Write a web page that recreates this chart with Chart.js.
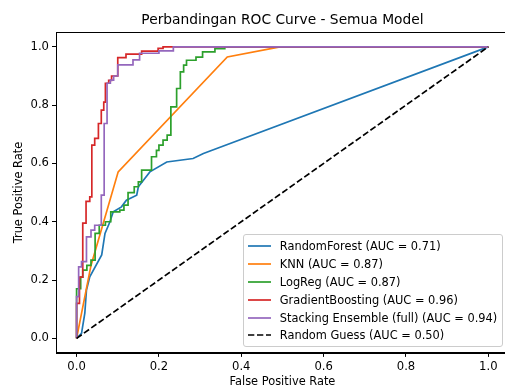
<!DOCTYPE html>
<html><head><meta charset="utf-8">
<script src="https://cdn.jsdelivr.net/npm/chart.js@4.4.0/dist/chart.umd.min.js"></script>
<style>
html,body{margin:0;padding:0;background:#fff;overflow:hidden;width:505px;height:390px}
#wrap{position:relative;width:520px;height:390px}
#legend{position:absolute;background:rgba(255,255,255,0.8);border:1px solid #cccccc;border-radius:3px;font-family:"DejaVu Sans";font-size:11.4px;color:#000;padding:2px 5px 2px 4px;box-sizing:border-box}
.row{display:flex;align-items:center;height:17.8px;white-space:nowrap}
.row svg{margin-right:9px;flex:none}
</style></head>
<body><div id="wrap"><canvas id="c" width="520" height="390"></canvas><div id="legend"></div></div>
<script>
const chartTitle = 'Perbandingan ROC Curve - Semua Model';
const xLabel = 'False Positive Rate';
const yLabel = 'True Positive Rate';
const tickValues = [0, 0.2, 0.4, 0.6, 0.8, 1.0];

const modelNames = ['RandomForest', 'KNN', 'LogReg', 'GradientBoosting', 'Stacking Ensemble (full)', 'Random Guess'];
const aucValues = [0.71, 0.87, 0.87, 0.96, 0.94, 0.50];
const colors = ['#1f77b4', '#ff7f0e', '#2ca02c', '#d62728', '#9467bd', '#000000'];

const rfFpr = [0, 0.012, 0.02, 0.024, 0.032, 0.061, 0.069, 0.081, 0.089, 0.109, 0.121, 0.146, 0.15, 0.178, 0.219, 0.283, 0.308, 1];
const rfTpr = [0, 0.017, 0.086, 0.166, 0.211, 0.286, 0.36, 0.4, 0.434, 0.451, 0.474, 0.491, 0.52, 0.571, 0.605, 0.617, 0.634, 1];

const knnFpr = [0, 0.035, 0.101, 0.366, 0.494, 1];
const knnTpr = [0, 0.25, 0.571, 0.965, 1, 1];

const lrFpr = [0, 0, 0.01, 0.01, 0.015, 0.015, 0.025, 0.025, 0.035, 0.035, 0.045, 0.045, 0.055, 0.055, 0.07, 0.07, 0.083, 0.083, 0.105, 0.105, 0.115, 0.115, 0.125, 0.125, 0.14, 0.14, 0.15, 0.15, 0.158, 0.158, 0.182, 0.182, 0.194, 0.194, 0.2, 0.2, 0.21, 0.21, 0.22, 0.22, 0.229, 0.229, 0.243, 0.243, 0.252, 0.252, 0.26, 0.26, 0.267, 0.267, 0.29, 0.29, 0.306, 0.306, 0.336, 0.336, 0.36, 0.36, 1];
const lrTpr = [0, 0.17, 0.17, 0.21, 0.21, 0.234, 0.234, 0.25, 0.25, 0.268, 0.268, 0.36, 0.36, 0.388, 0.388, 0.4, 0.4, 0.434, 0.434, 0.44, 0.44, 0.457, 0.457, 0.5, 0.5, 0.52, 0.52, 0.537, 0.537, 0.577, 0.577, 0.623, 0.623, 0.645, 0.645, 0.663, 0.663, 0.68, 0.68, 0.697, 0.697, 0.794, 0.794, 0.857, 0.857, 0.914, 0.914, 0.937, 0.937, 0.954, 0.954, 0.965, 0.965, 0.983, 0.983, 0.994, 0.994, 1, 1];

const gbFpr = [0, 0, 0.007, 0.007, 0.015, 0.015, 0.023, 0.023, 0.032, 0.032, 0.037, 0.037, 0.044, 0.044, 0.053, 0.053, 0.06, 0.06, 0.066, 0.066, 0.07, 0.07, 0.078, 0.078, 0.085, 0.085, 0.1, 0.1, 0.12, 0.12, 0.158, 0.158, 0.198, 0.198, 0.21, 0.21, 1];
const gbTpr = [0, 0.12, 0.12, 0.21, 0.21, 0.395, 0.395, 0.47, 0.47, 0.485, 0.485, 0.663, 0.663, 0.686, 0.686, 0.737, 0.737, 0.783, 0.783, 0.81, 0.81, 0.875, 0.875, 0.885, 0.885, 0.9, 0.9, 0.963, 0.963, 0.975, 0.975, 0.985, 0.985, 0.995, 0.995, 1, 1];

const stFpr = [0, 0, 0.005, 0.005, 0.012, 0.012, 0.024, 0.024, 0.035, 0.035, 0.044, 0.044, 0.06, 0.06, 0.067, 0.067, 0.074, 0.074, 0.082, 0.082, 0.09, 0.09, 0.1, 0.1, 0.137, 0.137, 0.153, 0.153, 0.2, 0.2, 0.235, 0.235, 1];
const stTpr = [0, 0.143, 0.143, 0.245, 0.245, 0.263, 0.263, 0.348, 0.348, 0.371, 0.371, 0.388, 0.388, 0.491, 0.491, 0.737, 0.737, 0.875, 0.875, 0.886, 0.886, 0.9, 0.9, 0.938, 0.938, 0.955, 0.955, 0.978, 0.978, 0.986, 0.986, 1, 1];

const guessFpr = [0, 1];
const guessTpr = [0, 1];

const seriesFpr = [rfFpr, knnFpr, lrFpr, gbFpr, stFpr, guessFpr];
const seriesTpr = [rfTpr, knnTpr, lrTpr, gbTpr, stTpr, guessTpr];

const FONT = 'DejaVu Sans';
const dashPattern = [6.3, 2.7];

const datasets = modelNames.map((name, i) => ({
  label: name + ' (AUC = ' + aucValues[i].toFixed(2) + ')',
  data: seriesFpr[i].map((x, j) => ({ x: x, y: seriesTpr[i][j] })),
  borderColor: colors[i],
  backgroundColor: colors[i],
  borderWidth: 1.7,
  borderDash: i === modelNames.length - 1 ? dashPattern : [],
  pointRadius: 0,
  tension: 0,
  fill: false,
  order: modelNames.length - 1 - i
}));

const framePlugin = {
  id: 'frame',
  afterDatasetsDraw(chart) {
    const a = chart.chartArea, ctx = chart.ctx;
    ctx.save();
    ctx.strokeStyle = '#000';
    ctx.lineWidth = 1;
    ctx.strokeRect(Math.round(a.left) + 0.5, Math.round(a.top) + 0.5, Math.round(a.right - a.left), Math.round(a.bottom - a.top));
    ctx.restore();
  }
};

const legendPlugin = {
  id: 'htmlLegend',
  afterUpdate(chart) {
    const el = document.getElementById('legend');
    el.innerHTML = '';
    chart.data.datasets.forEach(ds => {
      const row = document.createElement('div');
      row.className = 'row';
      const dash = ds.borderDash && ds.borderDash.length ? ds.borderDash.join(' ') : 'none';
      row.innerHTML = '<svg width="23" height="10"><line x1="0" y1="5" x2="23" y2="5" stroke="' + ds.borderColor +
        '" stroke-width="1.7" stroke-dasharray="' + dash + '"/></svg><span></span>';
      row.querySelector('span').textContent = ds.label;
      el.appendChild(row);
    });
    const a = chart.chartArea;
    el.style.right = (chart.width - (a.right - 5.7)) + 'px';
    el.style.bottom = (chart.height - (a.bottom - 5.7)) + 'px';
  }
};

function axisCfg(label, isY) {
  return {
    type: 'linear',
    min: -0.05,
    max: 1.05,
    afterBuildTicks: s => { s.ticks = tickValues.map(v => ({ value: v })); },
    afterFit: s => { if (isY) s.width = 56; else s.height = 37.1; },
    ticks: {
      callback: v => Number(v).toFixed(1),
      font: { family: FONT, size: 11.6 },
      color: '#000',
      padding: 3,
      maxRotation: 0,
      autoSkip: false
    },
    grid: { drawOnChartArea: false, drawTicks: true, tickLength: 4, color: '#000', lineWidth: 1 },
    border: { display: true, color: '#000', width: 1 },
    title: {
      display: true,
      text: label,
      font: { family: FONT, size: 11.4 },
      color: '#000',
      padding: isY ? { top: 11.9, bottom: 0 } : { top: 0, bottom: 1 }
    }
  };
}

new Chart(document.getElementById('c'), {
  type: 'line',
  data: { datasets: datasets },
  options: {
    responsive: false,
    animation: false,
    devicePixelRatio: 1,
    layout: { padding: { left: 0, right: 11.1, top: 0, bottom: 0 } },
    plugins: {
      legend: { display: false },
      tooltip: { enabled: false },
      title: {
        display: true,
        text: chartTitle,
        fullSize: false,
        font: { family: FONT, size: 13.8, weight: 'normal' },
        color: '#000',
        padding: { top: 12.2, bottom: 3.5 }
      }
    },
    scales: {
      x: axisCfg(xLabel, false),
      y: axisCfg(yLabel, true)
    }
  },
  plugins: [framePlugin, legendPlugin]
});
</script>
</body></html>
